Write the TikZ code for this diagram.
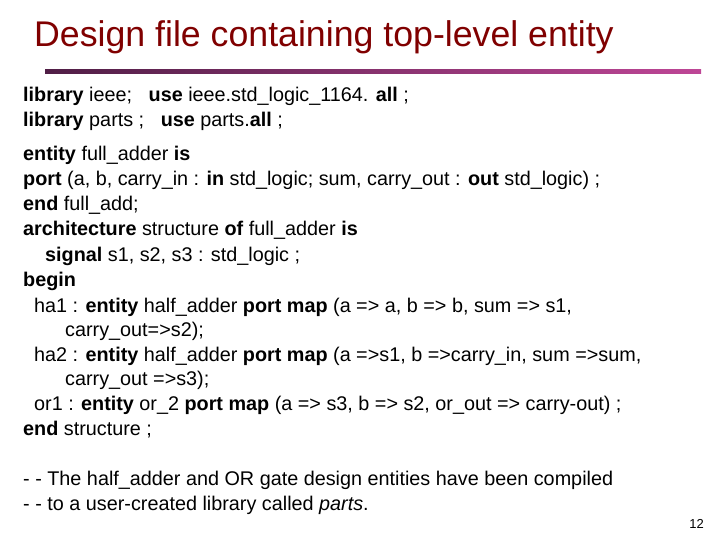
\documentclass[tikz,border=0pt]{standalone}
\usepackage{fontspec}
\setmainfont{Liberation Sans}
\definecolor{titlered}{RGB}{128,0,0}
\definecolor{lineL}{RGB}{80,30,70}
\definecolor{lineR}{RGB}{190,70,150}
\begin{document}
\begin{tikzpicture}[x=1pt,y=-1pt,
  code/.style={anchor=base west,inner sep=0pt,font=\fontsize{19.8}{22}\selectfont}]
\useasboundingbox (0,0) rectangle (720,540);
\node[anchor=base west,inner sep=0pt,text=titlered,font=\fontsize{35.7}{38}\selectfont] (title) at (34,47) {Design file containing top-level entity};
\shade[left color=lineL,right color=lineR] (45,70) rectangle (701,74);
\node[code] (l1) at (23,102) {\textbf{library} ieee;\ \ \ \textbf{use} ieee.std\_logic\_1164. \textbf{all} ;};
\node[code] (l2) at (23,127) {\textbf{library} parts ;\ \ \ \textbf{use} parts.\textbf{all} ;};
\node[code] (l3) at (23,161) {\textbf{entity} full\_adder \textbf{is}};
\node[code] (l4) at (23,186) {\textbf{port} (a, b, carry\_in : \textbf{in} std\_logic; sum, carry\_out : \textbf{out} std\_logic) ;};
\node[code] (l5) at (23,211) {\textbf{end} full\_add;};
\node[code] (l6) at (23,236) {\textbf{architecture} structure \textbf{of} full\_adder \textbf{is}};
\node[code] (l7) at (45,261) {\textbf{signal} s1, s2, s3 : std\_logic ;};
\node[code] (l8) at (23,286) {\textbf{begin}};
\node[code] (l9) at (34,312) {ha1 : \textbf{entity} half\_adder \textbf{port map} (a => a, b => b, sum => s1,};
\node[code] (l10) at (65,336) {carry\_out=>s2);};
\node[code] (l11) at (34,361) {ha2 : \textbf{entity} half\_adder \textbf{port map} (a =>s1, b =>carry\_in, sum =>sum,};
\node[code] (l12) at (65,385) {carry\_out =>s3);};
\node[code] (l13) at (34,410) {or1 : \textbf{entity} or\_2 \textbf{port map} (a => s3, b => s2, or\_out => carry-out) ;};
\node[code] (l14) at (23,435) {\textbf{end} structure ;};
\node[code] (c1) at (23,485) {- - The half\_adder and OR gate design entities have been compiled};
\node[code] (c2) at (23,510) {- - to a user-created library called \textit{parts}.};
\node[anchor=base east,inner sep=0pt,font=\fontsize{13}{14}\selectfont] (pg) at (704,528) {12};
\end{tikzpicture}
\end{document}
